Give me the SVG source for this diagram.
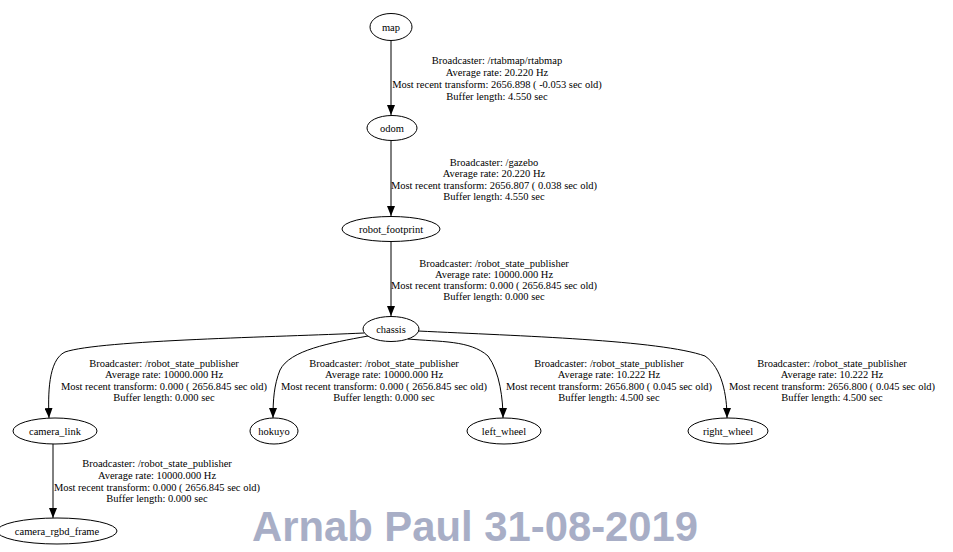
<svg xmlns="http://www.w3.org/2000/svg" width="953" height="552" viewBox="0 0 953 552">
<style>
.n ellipse{fill:none;stroke:#000;stroke-width:1}
text{font-family:"Liberation Serif","Times New Roman",serif;font-size:10.5px;fill:#000;text-anchor:middle}
.e path{fill:none;stroke:#000;stroke-width:1}
.wm{font-family:"Liberation Sans",Arial,sans-serif;font-weight:bold;font-size:41.8px;fill:#a8aec6;text-anchor:start}
</style>
<defs>
<marker id="ah" markerWidth="10" markerHeight="8" refX="10" refY="4" orient="auto" markerUnits="userSpaceOnUse">
<path d="M0,0 L10,4 L0,8 Z" fill="#000"/>
</marker>
</defs>
<rect width="953" height="552" fill="#fff"/>
<g class="e" id="edges">
<path d="M391,41 L391,115" marker-end="url(#ah)"/>
<path d="M391,141 L391,216" marker-end="url(#ah)"/>
<path d="M391,241 L391,316" marker-end="url(#ah)"/>
<path d="M364,333 C280,337 100,340 65,352 C48,360 48,395 49,418" marker-end="url(#ah)"/>
<path d="M368,336 C330,343 290,350 280,370 C274,385 273,400 273,418" marker-end="url(#ah)"/>
<path d="M408,339 C440,342 470,340 488,356 C500,372 503,400 503,418" marker-end="url(#ah)"/>
<path d="M418,331 C520,336 660,340 705,356 C722,368 727,395 727,418" marker-end="url(#ah)"/>
<path d="M53,444 L53,518" marker-end="url(#ah)"/>
</g>
<g class="n" id="map"><ellipse cx="391" cy="27" rx="21" ry="13.5"/><text x="391" y="31">map</text></g>
<g class="n" id="odom"><ellipse cx="392" cy="128" rx="25" ry="12.5"/><text x="392" y="132">odom</text></g>
<g class="n" id="robot_footprint"><ellipse cx="391" cy="229" rx="49" ry="12.5"/><text x="391" y="233">robot_footprint</text></g>
<g class="n" id="chassis"><ellipse cx="391" cy="329" rx="28" ry="12.5"/><text x="391" y="333">chassis</text></g>
<g class="n" id="camera_link"><ellipse cx="55" cy="431" rx="42" ry="13"/><text x="55" y="435">camera_link</text></g>
<g class="n" id="hokuyo"><ellipse cx="274" cy="431" rx="24" ry="13"/><text x="274" y="435">hokuyo</text></g>
<g class="n" id="left_wheel"><ellipse cx="504" cy="431" rx="37" ry="13"/><text x="504" y="435">left_wheel</text></g>
<g class="n" id="right_wheel"><ellipse cx="728" cy="431" rx="40" ry="13"/><text x="728" y="435">right_wheel</text></g>
<g class="n" id="camera_rgbd_frame"><ellipse cx="57" cy="531" rx="60" ry="13"/><text x="57" y="535">camera_rgbd_frame</text></g>
<g id="labels">
<text x="497" y="64">Broadcaster: /rtabmap/rtabmap</text>
<text x="497" y="76">Average rate: 20.220 Hz</text>
<text x="497" y="88">Most recent transform: 2656.898 ( -0.053 sec old)</text>
<text x="497" y="100">Buffer length: 4.550 sec</text>
<text x="494" y="166">Broadcaster: /gazebo</text>
<text x="494" y="177">Average rate: 20.220 Hz</text>
<text x="494" y="189">Most recent transform: 2656.807 ( 0.038 sec old)</text>
<text x="494" y="200">Buffer length: 4.550 sec</text>
<text x="494" y="267">Broadcaster: /robot_state_publisher</text>
<text x="494" y="278">Average rate: 10000.000 Hz</text>
<text x="494" y="289">Most recent transform: 0.000 ( 2656.845 sec old)</text>
<text x="494" y="300">Buffer length: 0.000 sec</text>
<text x="164" y="367">Broadcaster: /robot_state_publisher</text>
<text x="164" y="378">Average rate: 10000.000 Hz</text>
<text x="164" y="390">Most recent transform: 0.000 ( 2656.845 sec old)</text>
<text x="164" y="401">Buffer length: 0.000 sec</text>
<text x="384" y="367">Broadcaster: /robot_state_publisher</text>
<text x="384" y="378">Average rate: 10000.000 Hz</text>
<text x="384" y="390">Most recent transform: 0.000 ( 2656.845 sec old)</text>
<text x="384" y="401">Buffer length: 0.000 sec</text>
<text x="609" y="367">Broadcaster: /robot_state_publisher</text>
<text x="609" y="378">Average rate: 10.222 Hz</text>
<text x="609" y="390">Most recent transform: 2656.800 ( 0.045 sec old)</text>
<text x="609" y="401">Buffer length: 4.500 sec</text>
<text x="832" y="367">Broadcaster: /robot_state_publisher</text>
<text x="832" y="378">Average rate: 10.222 Hz</text>
<text x="832" y="390">Most recent transform: 2656.800 ( 0.045 sec old)</text>
<text x="832" y="401">Buffer length: 4.500 sec</text>
<text x="157" y="467">Broadcaster: /robot_state_publisher</text>
<text x="157" y="479">Average rate: 10000.000 Hz</text>
<text x="157" y="491">Most recent transform: 0.000 ( 2656.845 sec old)</text>
<text x="157" y="502">Buffer length: 0.000 sec</text>
</g>
<text class="wm" x="252" y="541">Arnab Paul 31-08-2019</text>
</svg>
